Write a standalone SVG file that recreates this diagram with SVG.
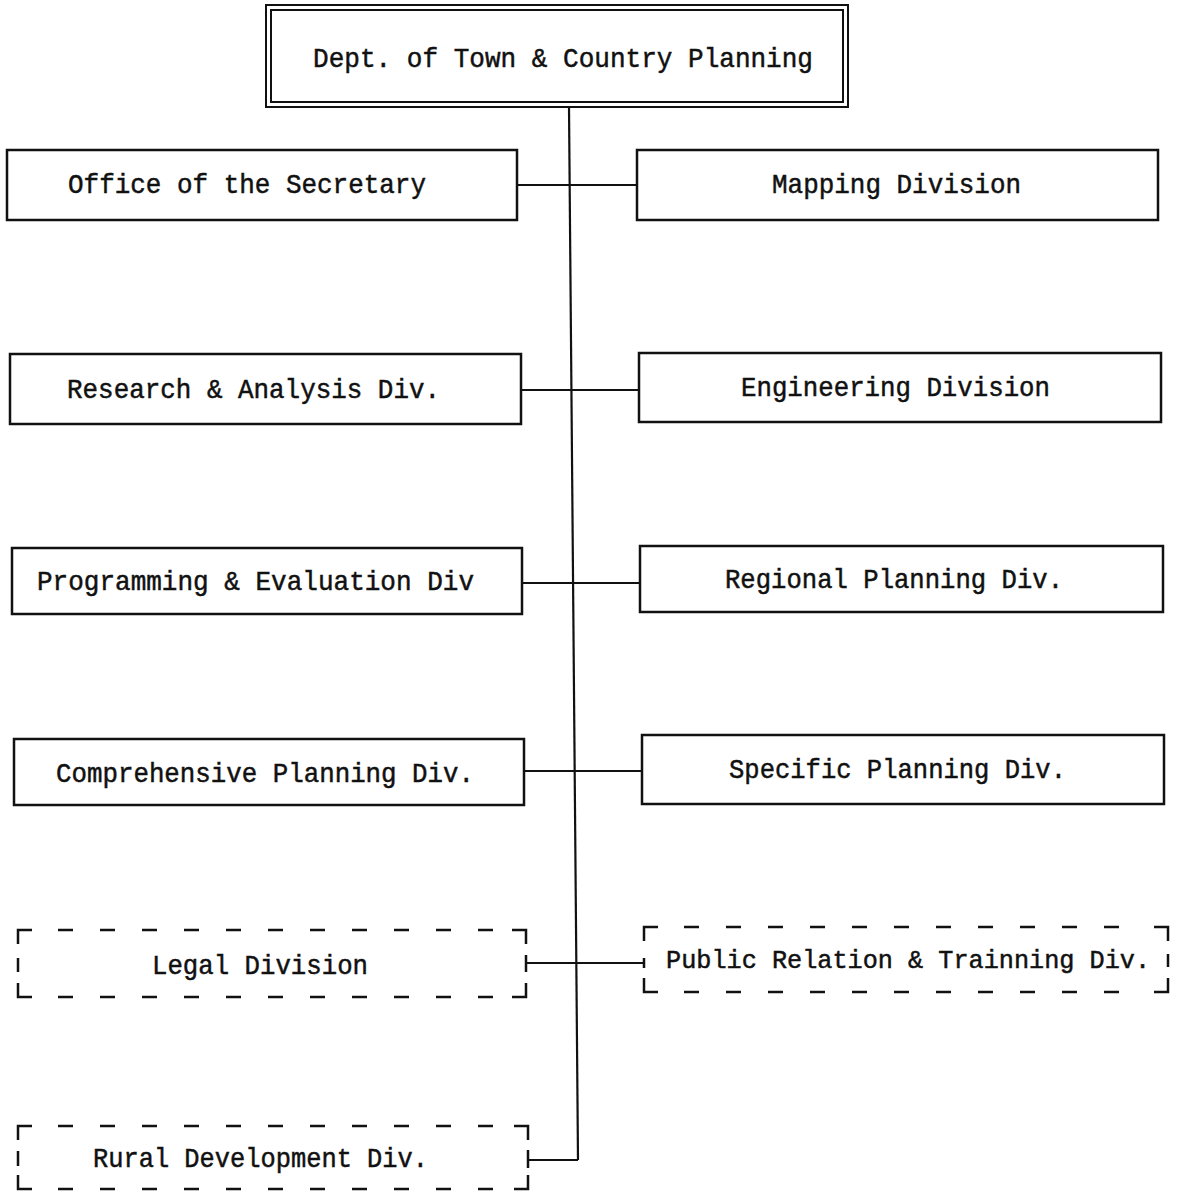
<svg xmlns="http://www.w3.org/2000/svg" width="1179" height="1193" viewBox="0 0 1179 1193">
<style>
.box{fill:none;stroke:#111;stroke-width:2.5}
.thin{fill:none;stroke:#111;stroke-width:2}
.dash{fill:none;stroke:#111;stroke-width:2.5;stroke-dasharray:15 27}
.seg{fill:none;stroke:#111;stroke-width:2.5}
.conn{fill:none;stroke:#111;stroke-width:2.2}
text{font-family:"Liberation Mono","DejaVu Sans Mono",monospace;font-size:28px;fill:#111;stroke:#111;stroke-width:0.5}
.sm{font-size:26px}
</style>
<rect width="1179" height="1193" fill="#fff"/>
<g id="connectors">
<line class="conn" x1="569" y1="107" x2="578" y2="1160"/>
<line class="conn" x1="517" y1="185" x2="637" y2="185"/>
<line class="conn" x1="521" y1="390" x2="639" y2="390"/>
<line class="conn" x1="522" y1="583" x2="640" y2="583"/>
<line class="conn" x1="524" y1="771" x2="642" y2="771"/>
<line class="conn" x1="526" y1="963" x2="644" y2="963"/>
<line class="conn" x1="528" y1="1160" x2="578" y2="1160"/>
</g>
<g id="dept">
<rect class="thin" x="266" y="5" width="582" height="102"/>
<rect class="thin" x="271" y="10" width="572" height="92"/>
<text x="313" y="67" textLength="500" lengthAdjust="spacingAndGlyphs">Dept. of Town &amp; Country Planning</text>
</g>
<g id="office">
<rect class="box" x="7" y="150" width="510" height="70"/>
<text x="68" y="193" textLength="358" lengthAdjust="spacingAndGlyphs">Office of the Secretary</text>
</g>
<g id="mapping">
<rect class="box" x="637" y="150" width="521" height="70"/>
<text x="772" y="193" textLength="249" lengthAdjust="spacingAndGlyphs">Mapping Division</text>
</g>
<g id="research">
<rect class="box" x="10" y="354" width="511" height="70"/>
<text x="67" y="398" textLength="373" lengthAdjust="spacingAndGlyphs">Research &amp; Analysis Div.</text>
</g>
<g id="engineering">
<rect class="box" x="639" y="353" width="522" height="69"/>
<text x="741" y="396" textLength="309" lengthAdjust="spacingAndGlyphs">Engineering Division</text>
</g>
<g id="programming">
<rect class="box" x="12" y="548" width="510" height="66"/>
<text x="37" y="590" textLength="437" lengthAdjust="spacingAndGlyphs">Programming &amp; Evaluation Div</text>
</g>
<g id="regional">
<rect class="box" x="640" y="546" width="523" height="66"/>
<text x="725" y="588" textLength="338" lengthAdjust="spacingAndGlyphs">Regional Planning Div.</text>
</g>
<g id="comprehensive">
<rect class="box" x="14" y="739" width="510" height="66"/>
<text x="56" y="782" textLength="418" lengthAdjust="spacingAndGlyphs">Comprehensive Planning Div.</text>
</g>
<g id="specific">
<rect class="box" x="642" y="735" width="522" height="69"/>
<text x="729" y="778" textLength="337" lengthAdjust="spacingAndGlyphs">Specific Planning Div.</text>
</g>
<g id="legal">
<path class="seg" d="M18,944 V930 H32 M512,930 H526 V944 M18,983 V997 H32 M512,997 H526 V983 M18,958 V972 M526,955 V972"/>
<line class="dash" x1="58" y1="930" x2="500" y2="930"/>
<line class="dash" x1="58" y1="997" x2="500" y2="997"/>
<text x="152" y="974" textLength="216" lengthAdjust="spacingAndGlyphs">Legal Division</text>
</g>
<g id="public">
<path class="seg" d="M644,941 V927 H658 M1154,927 H1168 V941 M644,978 V992 H658 M1154,992 H1168 V978 M644,958 V968 M1168,954 V967"/>
<line class="dash" x1="684" y1="927" x2="1145" y2="927"/>
<line class="dash" x1="684" y1="992" x2="1145" y2="992"/>
<text class="sm" x="666" y="968" textLength="484" lengthAdjust="spacingAndGlyphs">Public Relation &amp; Trainning Div.</text>
</g>
<g id="rural">
<path class="seg" d="M18,1140 V1126 H32 M514,1126 H528 V1140 M18,1175 V1189 H32 M514,1189 H528 V1175 M18,1151 V1166 M528,1150 V1168"/>
<line class="dash" x1="58" y1="1126" x2="502" y2="1126"/>
<line class="dash" x1="58" y1="1189" x2="502" y2="1189"/>
<text x="93" y="1167" textLength="335" lengthAdjust="spacingAndGlyphs">Rural Development Div.</text>
</g>
</svg>
